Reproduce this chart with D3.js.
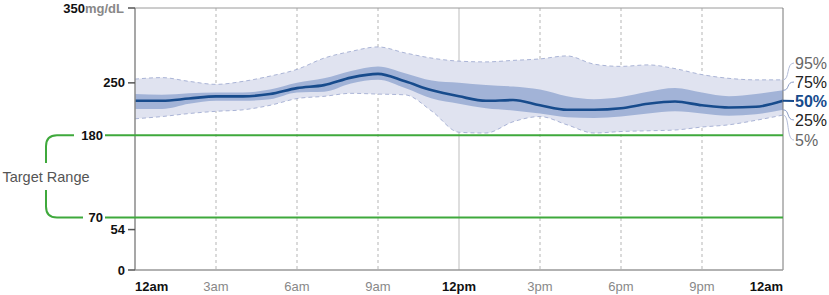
<!DOCTYPE html>
<html><head><meta charset="utf-8">
<script src="https://cdn.jsdelivr.net/npm/d3@7"></script>
<style>body{margin:0;background:#fff;} svg{display:block;font-family:"Liberation Sans",Arial,sans-serif;}</style>
</head><body>
<svg id="c" width="829" height="295"></svg>
<script>
const hours = [0,1,2,3,4,5,6,7,8,9,10,11,12,13,14,15,16,17,18,19,20,21,22,23,24];
const p95 = [255,257,252,248,252,259,268,283,292,298,290,283,279,278,280,282,286,275,272,274,269,261,256,254,254];
const p75 = [235,234,236,237,237,241,250,256,266,272,263,253,250,247,245,241,232,228,231,238,243,237,232,235,240];
const p50 = [226,226,229,232,232,235,243,247,257,262,252,240,232,226,227,220,214,214,216,222,225,220,217,218,226];
const p25 = [215,215,222,226,226,228,237,238,249,254,243,229,222,216,213,209,204,203,205,209,212,209,206,208,214];
const p5  = [202,205,209,212,214,220,229,232,236,235,234,212,184,183,198,205,194,183,185,186,187,191,194,200,207];
const xTickHours = [0,3,6,9,12,15,18,21,24];
const xTickLabels = ["12am","3am","6am","9am","12pm","3pm","6pm","9pm","12am"];
const yTicks = [0,54,250,350];
const targetRange = [70,180];
const pctLabels = ["95%","75%","50%","25%","5%"];

const svg = d3.select("#c");
const L=135, R=783, T=8, B=270;
const x = d3.scaleLinear().domain([0,24]).range([L,R]);
const y = d3.scaleLinear().domain([0,350]).range([B,T]);

// grid lines
xTickHours.slice(1,-1).forEach(h=>{
  svg.append("line").attr("x1",x(h)).attr("x2",x(h)).attr("y1",T).attr("y2",B)
    .attr("stroke", h===12 ? "#bdbdbd" : "#b5b5b5").attr("stroke-width",1)
    .attr("stroke-dasharray", h===12 ? null : "3,3");
});

const idx = d3.range(hours.length);
const area = (lo,hi)=>d3.area().x(i=>x(hours[i])).y0(i=>y(lo[i])).y1(i=>y(hi[i])).curve(d3.curveMonotoneX);
const line = arr=>d3.line().x(i=>x(hours[i])).y(i=>y(arr[i])).curve(d3.curveMonotoneX);

svg.append("path").attr("d",area(p5,p95)(idx)).attr("fill","#e0e3f0");
svg.append("path").attr("d",line(p95)(idx)).attr("fill","none").attr("stroke","#aab4d6").attr("stroke-width",1).attr("stroke-dasharray","4,3");
svg.append("path").attr("d",line(p5)(idx)).attr("fill","none").attr("stroke","#aab4d6").attr("stroke-width",1).attr("stroke-dasharray","4,3");
svg.append("path").attr("d",area(p25,p75)(idx)).attr("fill","#a2b3d7");
svg.append("path").attr("d",line(p50)(idx)).attr("fill","none").attr("stroke","#174b8c").attr("stroke-width",2.6);

// frame
svg.append("line").attr("x1",L).attr("x2",R).attr("y1",T).attr("y2",T).attr("stroke","#9a9a9a");
svg.append("line").attr("x1",R).attr("x2",R).attr("y1",T).attr("y2",B).attr("stroke","#777");
svg.append("line").attr("x1",L).attr("x2",R).attr("y1",B).attr("y2",B).attr("stroke","#999").attr("stroke-width",1.5);
svg.append("line").attr("x1",L).attr("x2",L).attr("y1",T).attr("y2",B).attr("stroke","#8a8a8a").attr("stroke-width",1.5);

// target lines
const green="#3fa93c";
targetRange.forEach(v=>{
  svg.append("line").attr("x1",105).attr("x2",R).attr("y1",y(v)).attr("y2",y(v)).attr("stroke",green).attr("stroke-width",2);
  svg.append("text").attr("x",103).attr("y",y(v)+4.5).attr("text-anchor","end")
    .attr("font-size",13).attr("font-weight","bold").attr("fill","#111").text(v);
});
// bracket
const yt=y(180), yb=y(70), bx=46, r=11;
svg.append("path").attr("fill","none").attr("stroke",green).attr("stroke-width",2)
  .attr("d",`M74,${yt} H${bx+r} Q${bx},${yt} ${bx},${yt+r} V163`);
svg.append("path").attr("fill","none").attr("stroke",green).attr("stroke-width",2)
  .attr("d",`M${bx},190 V${yb-r} Q${bx},${yb} ${bx+r},${yb} H83`);
svg.append("text").attr("x",46).attr("y",182).attr("text-anchor","middle")
  .attr("font-size",14.5).attr("fill","#555").text("Target Range");

// y ticks
yTicks.forEach(v=>{
  svg.append("line").attr("x1",128).attr("x2",L).attr("y1",y(v)).attr("y2",y(v)).attr("stroke","#555").attr("stroke-width",1.5);
  if(v===350){
    const t=svg.append("text").attr("x",124).attr("y",y(v)+4.5).attr("text-anchor","end").attr("font-size",13).attr("font-weight","bold");
    t.append("tspan").attr("fill","#111").text("350");
    t.append("tspan").attr("fill","#888").text("mg/dL");
  } else {
    svg.append("text").attr("x",125).attr("y",y(v)+4.5).attr("text-anchor","end")
      .attr("font-size",13).attr("font-weight","bold").attr("fill","#111").text(v);
  }
});

// x labels
xTickHours.forEach((h,i)=>{
  const bold = xTickLabels[i].startsWith("12");
  svg.append("text").attr("x", x(h)).attr("y",291)
    .attr("text-anchor", i===0 ? "start" : (i===xTickHours.length-1 ? "end" : "middle"))
    .attr("font-size",13).attr("font-weight",bold?"bold":"normal")
    .attr("fill",bold?"#111":"#888").text(xTickLabels[i]);
});

// right percentile labels
const last = hours.length-1;
const ends = [p95[last],p75[last],p50[last],p25[last],p5[last]];
const labelY = [63,82,101,120,140];
const lblColor = ["#666","#222","#174b8c","#222","#666"];
const conColor = ["#b4bdd9","#8b9cc6","#174b8c","#8b9cc6","#b4bdd9"];
pctLabels.forEach((lab,i)=>{
  const y0=y(ends[i]), y1=labelY[i];
  if(i===2){
    svg.append("line").attr("x1",R).attr("x2",794).attr("y1",y0).attr("y2",y1).attr("stroke",conColor[i]).attr("stroke-width",2);
  } else {
    svg.append("path").attr("fill","none").attr("stroke",conColor[i]).attr("stroke-width",1)
      .attr("d",`M${R},${y0} C${790},${y0} ${786},${y1} ${794},${y1}`);
  }
  svg.append("text").attr("x",795).attr("y",y1+5.5).attr("font-size",16)
    .attr("font-weight",i===2?"bold":"normal").attr("fill",lblColor[i]).text(lab);
});
</script>
</body></html>
